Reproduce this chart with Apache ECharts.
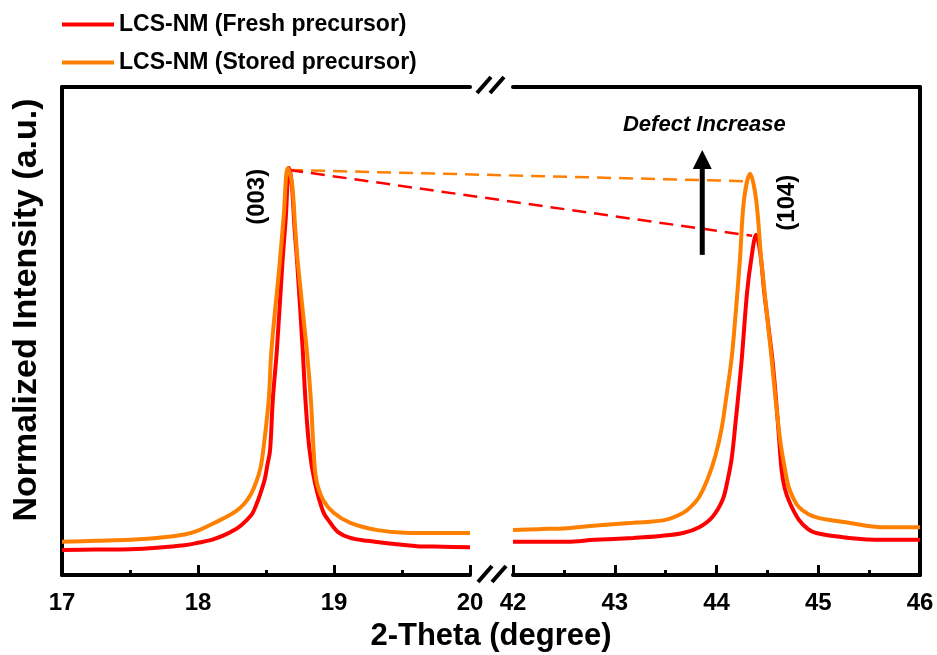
<!DOCTYPE html>
<html><head><meta charset="utf-8">
<script src="https://cdn.jsdelivr.net/npm/echarts@6/dist/echarts.min.js"></script>
<style>html,body{margin:0;padding:0;background:#fff}#c{width:937px;height:655px}</style>
</head><body><div id="c"></div>
<script>
// ---------------- data ----------------
const seriesNames = ['LCS-NM (Fresh precursor)', 'LCS-NM (Stored precursor)'];

const freshLeftX = [17.00,17.25,17.50,17.70,17.90,18.00,18.10,18.18,18.24,18.30,18.36,18.40,18.43,18.46,18.49,18.51,18.53,18.55,18.58,18.62,18.645,18.67,18.69,18.71,18.73,18.77,18.79,18.82,18.86,18.92,18.97,19.03,19.12,19.25,19.36,19.50,19.61,19.80,20.00];
const freshLeftY = [5.1,5.2,5.3,5.6,6.1,6.6,7.2,8.0,8.8,9.8,11.3,12.6,14.5,16.8,19.5,22.5,25.6,35.9,46.1,63.7,73.0,83.4,80.0,71.0,63.7,46.1,35.9,25.6,18.9,13.0,10.8,8.8,7.6,7.0,6.6,6.2,5.9,5.8,5.7];

const freshRightX = [42.00,42.25,42.53,42.80,43.18,43.45,43.67,43.83,43.96,44.06,44.11,44.15,44.19,44.22,44.25,44.30,44.34,44.39,44.43,44.47,44.51,44.55,44.585,44.615,44.64,44.67,44.72,44.81,44.90,44.98,45.30,45.63,46.00];
const freshRightY = [6.8,6.8,6.8,7.2,7.6,8.0,8.6,9.8,11.9,15.4,19.5,24.0,31.8,38.0,44.7,57.8,64.5,69.7,66.0,57.8,51.0,44.0,36.0,28.0,21.5,17.8,14.8,11.3,9.4,8.6,7.6,7.2,7.2];

const storedLeftX = [17.00,17.25,17.50,17.70,17.90,18.00,18.10,18.20,18.28,18.34,18.39,18.43,18.46,18.48,18.52,18.54,18.60,18.63,18.66,18.69,18.715,18.735,18.80,18.83,18.85,18.87,18.92,19.00,19.12,19.32,19.56,19.80,20.00];
const storedLeftY = [6.8,7.0,7.2,7.6,8.3,9.1,10.4,11.8,13.1,14.6,16.6,19.2,22.0,25.6,35.9,46.1,63.7,73.5,83.4,80.5,71.0,63.7,46.1,35.9,25.6,19.5,15.4,12.7,10.7,9.2,8.6,8.6,8.6];

const storedRightX = [42.00,42.25,42.53,42.85,43.18,43.50,43.67,43.75,43.83,43.91,43.99,44.05,44.10,44.15,44.19,44.23,44.27,44.33,44.39,44.44,44.54,44.59,44.63,44.67,44.71,44.76,44.81,44.90,45.00,45.30,45.63,46.00];
const storedRightY = [9.2,9.4,9.6,10.2,10.7,11.3,12.7,14.0,16.0,19.5,24.5,30.0,37.0,44.7,54.0,64.5,76.8,82.2,76.8,64.5,44.7,34.0,27.0,22.0,18.0,15.5,13.9,12.5,11.7,10.7,9.8,9.8];

const xRangeLeft = [17, 20];
const xRangeRight = [42, 46];
const yRange = [0, 100];

const xTitle = '2-Theta (degree)';
const yTitle = 'Normalized Intensity (a.u.)';
const peakLabels = ['(003)', '(104)'];
const annotationText = 'Defect Increase';

// annotation anchors (data coordinates)
const dashStart = [18.67, 83.0];
const dashEndStored = [44.28, 80.7];
const dashEndFresh = [44.35, 69.5];
const arrowFrom = [43.86, 65.6];
const arrowTo = [43.86, 87.1];
const label003At = [18.44, 77.5];
const label104At = [44.70, 76.3];
const defectAt = [43.88, 92.2];

// ---------------- chart ----------------
const zip = (xs, ys) => xs.map((x, i) => [x, ys[i]]);
const FONT = '"Liberation Sans", Arial, sans-serif';
const RED = '#FF0000', ORANGE = '#FF8000';

const chart = echarts.init(document.getElementById('c'), null, {renderer: 'canvas'});

function xAxisBottom(gi, range) {
  return {
    type: 'value', gridIndex: gi, min: range[0], max: range[1], interval: 1, position: 'bottom',
    axisLine: {show: true, onZero: false, lineStyle: {color: '#000', width: 4}},
    axisTick: {show: true, inside: true, length: 10, lineStyle: {color: '#000', width: 3}},
    minorTick: {show: true, splitNumber: 2, length: 5, lineStyle: {color: '#000', width: 3}},
    axisLabel: {show: true, margin: 16, color: '#000', fontSize: 24, fontWeight: 'bold', fontFamily: FONT},
    splitLine: {show: false}, minorSplitLine: {show: false}
  };
}
function xAxisTop(gi, range) {
  return {
    type: 'value', gridIndex: gi, min: range[0], max: range[1], position: 'top',
    axisLine: {show: true, onZero: false, lineStyle: {color: '#000', width: 4}},
    axisTick: {show: false}, axisLabel: {show: false}, splitLine: {show: false}
  };
}
function yAxis(gi, pos) {
  return {
    type: 'value', gridIndex: gi, min: yRange[0], max: yRange[1], position: pos,
    axisLine: {show: true, onZero: false, lineStyle: {color: '#000', width: 4}},
    axisTick: {show: false}, axisLabel: {show: false}, splitLine: {show: false}
  };
}
function lineSeries(name, xi, data, color) {
  return {
    name: name, type: 'line', xAxisIndex: xi, yAxisIndex: xi < 2 ? 0 : 1,
    data: data, showSymbol: false, symbol: 'none', smooth: 0.35,
    lineStyle: {color: color, width: 4}, itemStyle: {color: color}, z: 3
  };
}
function legendFor(name, top) {
  return {
    data: [name], left: 57, top: top, orient: 'vertical', icon: 'rect',
    itemWidth: 52, itemHeight: 4, selectedMode: false,
    textStyle: {color: '#000', fontSize: 23, fontWeight: 'bold', fontFamily: FONT}
  };
}

chart.setOption({
  animation: false,
  backgroundColor: '#fff',
  grid: [
    {left: 62, width: 408, top: 87, height: 488, outerBoundsMode: 'none', containLabel: false},
    {left: 513, width: 407, top: 87, height: 488, outerBoundsMode: 'none', containLabel: false}
  ],
  xAxis: [
    xAxisBottom(0, xRangeLeft), xAxisTop(0, xRangeLeft),
    xAxisBottom(1, xRangeRight), xAxisTop(1, xRangeRight)
  ],
  yAxis: [yAxis(0, 'left'), yAxis(1, 'right')],
  legend: [legendFor(seriesNames[0], 8), legendFor(seriesNames[1], 46)],
  series: [
    lineSeries(seriesNames[0], 0, zip(freshLeftX, freshLeftY), RED),
    lineSeries(seriesNames[0], 2, zip(freshRightX, freshRightY), RED),
    lineSeries(seriesNames[1], 0, zip(storedLeftX, storedLeftY), ORANGE),
    lineSeries(seriesNames[1], 2, zip(storedRightX, storedRightY), ORANGE)
  ]
});

const pL = v => chart.convertToPixel({xAxisIndex: 0, yAxisIndex: 0}, v);
const pR = v => chart.convertToPixel({xAxisIndex: 2, yAxisIndex: 1}, v);

const s0 = pL(dashStart), eS = pR(dashEndStored), eF = pR(dashEndFresh);
const aF = pR(arrowFrom), aT = pR(arrowTo);
const l003 = pL(label003At), l104 = pR(label104At), dI = pR(defectAt);
const headLen = 19, headHalf = 9.5;

const breakStyle = {stroke: '#000', lineWidth: 4};
const txt = (x, y, text, size, extra) => Object.assign({
  type: 'text', x: x, y: y, z: 10,
  style: {text: text, fill: '#000', font: 'bold ' + size + 'px ' + FONT, textAlign: 'center', textVerticalAlign: 'middle'}
}, extra || {});

chart.setOption({
  graphic: [
    {type: 'line', z: 2, shape: {x1: s0[0], y1: s0[1], x2: eS[0], y2: eS[1]}, style: {stroke: ORANGE, lineWidth: 2.5, lineDash: [14, 8]}},
    {type: 'line', z: 2, shape: {x1: s0[0], y1: s0[1], x2: eF[0], y2: eF[1]}, style: {stroke: RED, lineWidth: 2.5, lineDash: [14, 8]}},
    {type: 'line', z: 5, shape: {x1: aF[0], y1: aF[1], x2: aT[0], y2: aT[1] + headLen}, style: {stroke: '#000', lineWidth: 5}},
    {type: 'polygon', z: 5, shape: {points: [[aT[0], aT[1]], [aT[0] - headHalf, aT[1] + headLen], [aT[0] + headHalf, aT[1] + headLen]]}, style: {fill: '#000'}},
    txt(l003[0], l003[1], peakLabels[0], 24, {rotation: Math.PI / 2}),
    txt(l104[0], l104[1], peakLabels[1], 24, {rotation: Math.PI / 2}),
    {type: 'text', x: dI[0], y: dI[1], z: 10, style: {text: annotationText, fill: '#000', font: 'italic bold 22px ' + FONT, textAlign: 'center', textVerticalAlign: 'middle'}},
    txt(491, 636, xTitle, 31),
    txt(27, 310, yTitle, 34, {rotation: Math.PI / 2}),
    // axis break marks
    {type: 'line', z: 6, shape: {x1: 477, y1: 93, x2: 491, y2: 77}, style: breakStyle},
    {type: 'line', z: 6, shape: {x1: 490, y1: 93, x2: 504, y2: 77}, style: breakStyle},
    {type: 'line', z: 6, shape: {x1: 478, y1: 582, x2: 492, y2: 566}, style: breakStyle},
    {type: 'line', z: 6, shape: {x1: 492, y1: 582, x2: 506, y2: 566}, style: breakStyle}
  ]
});
</script>
</body></html>
